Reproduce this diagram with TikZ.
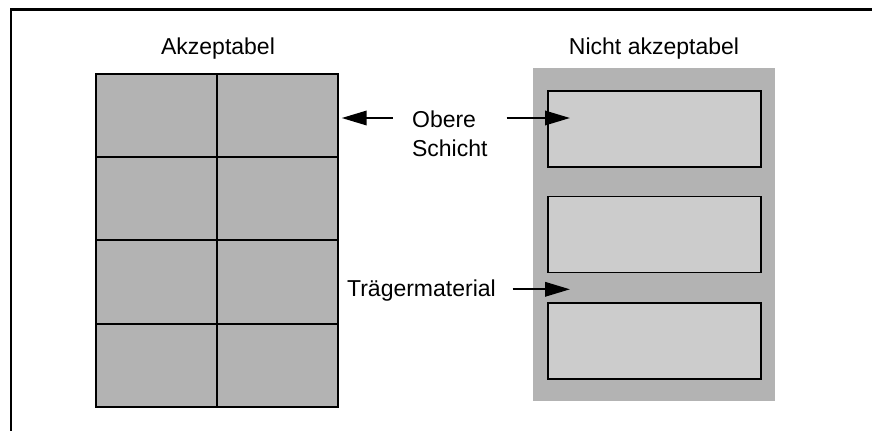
\documentclass[tikz,border=0pt]{standalone}
\usepackage{fontspec}
\setmainfont{Liberation Sans}
\usetikzlibrary{arrows.meta}
\definecolor{darkfill}{HTML}{B3B3B3}
\definecolor{lightfill}{HTML}{CCCCCC}
\tikzset{
  framestyle/.style={line width=1.15pt},
  gridline/.style={line width=0.85pt},
  innerbox/.style={draw, line width=0.85pt, fill=lightfill, inner sep=0pt, minimum width=106.5pt, minimum height=38pt},
  arr/.style={line width=1.1pt, -{Triangle[length=12.5pt,width=7.2pt]}},
  lbl/.style={inner sep=0pt, font=\fontsize{11.5}{14.85}\selectfont}
}
\begin{document}
\begin{tikzpicture}[x=0.5pt,y=-0.5pt]
\useasboundingbox (0,0) rectangle (872,430);
% frame
\draw[framestyle] (11,431) -- (11,9.5) -- (873,9.5);
% titles
\node[lbl, anchor=base] (t1) at (218,54.3) {Akzeptabel};
\node[lbl, anchor=base] (t2) at (654,54.3) {Nicht akzeptabel};
% left grid
\fill[darkfill] (96,74) rectangle (338,407);
\draw[gridline] (96,74) rectangle (338,407);
\draw[gridline] (217,74) -- (217,407);
\foreach \yy in {157,240,324} \draw[gridline] (96,\yy) -- (338,\yy);
% right panel
\fill[darkfill] (533,68) rectangle (775,401);
\node[innerbox, anchor=north west] (b1) at (547.3,90) {};
\node[innerbox, anchor=north west] (b2) at (547.3,195.7) {};
\node[innerbox, anchor=north west] (b3) at (547.3,302) {};
% labels
\node[lbl, anchor=base west, align=left] (ob) at (411.7,156.7) {Obere\\Schicht};
\node[lbl, anchor=base west] (tm) at (346.7,296.7) {Trägermaterial};
% arrow ends
\coordinate (l1s) at (392.7,118);
\coordinate (l1e) at (341.7,118);
\coordinate (r1s) at (506.7,118);
\coordinate (r1e) at (570,118);
\coordinate (r2s) at (512.7,289.3);
\coordinate (r2e) at (570,289.3);
\draw[arr] (l1s) -- (l1e);
\draw[arr] (r1s) -- (r1e);
\draw[arr] (r2s) -- (r2e);
\end{tikzpicture}
\end{document}
